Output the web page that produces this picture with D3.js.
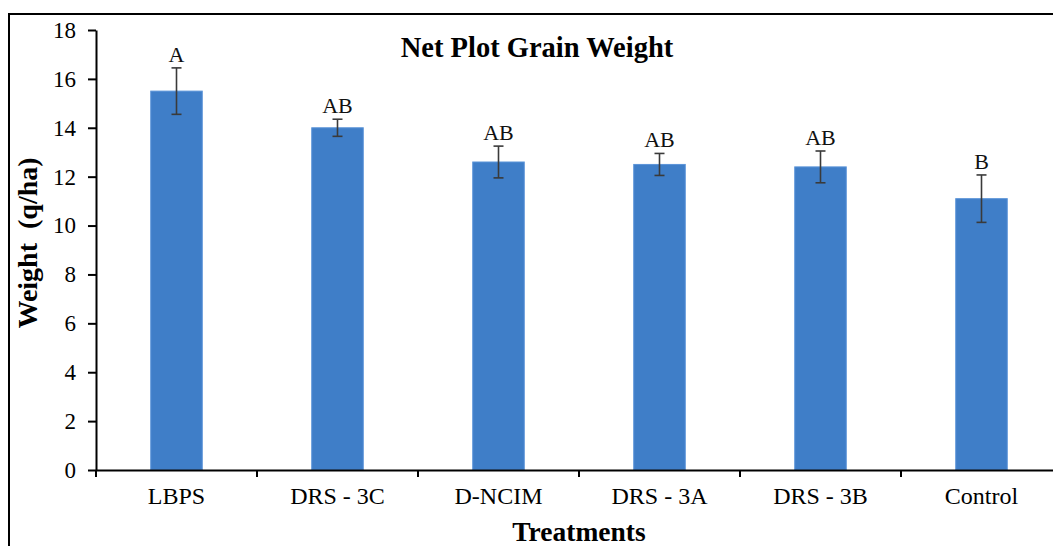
<!DOCTYPE html>
<html>
<head>
<meta charset="utf-8">
<script src="https://cdn.jsdelivr.net/npm/d3@7"></script>
<style>
  body { margin: 0; background: #fff; }
  svg { display: block; font-family: "Liberation Serif", "Times New Roman", serif; }
  .axis path, .axis line { stroke: #000; stroke-width: 2; }
  .axis text { fill: #000; }
</style>
</head>
<body>
<div id="chart"></div>
<script>
// data
var treatments = ["LBPS", "DRS - 3C", "D-NCIM", "DRS - 3A", "DRS - 3B", "Control"];
var weights = [15.5, 14.0, 12.6, 12.5, 12.4, 11.1];
var errors = [0.95, 0.35, 0.65, 0.45, 0.65, 0.97];
var groups = ["A", "AB", "AB", "AB", "AB", "B"];
var yTicks = [0, 2, 4, 6, 8, 10, 12, 14, 16, 18];

var svgWidth = 1053;
var svgHeight = 546;

var svg = d3.select("#chart")
  .append("svg")
  .attr("width", svgWidth)
  .attr("height", svgHeight);

// outer frame (cut off at right and bottom like the picture)
svg.append("rect")
  .attr("x", 9)
  .attr("y", 14)
  .attr("width", 1100)
  .attr("height", 600)
  .attr("fill", "none")
  .attr("stroke", "#000")
  .attr("stroke-width", 2);

var x0 = 96, bandW = 161;
var xScale = d3.scaleBand()
  .domain(treatments)
  .range([x0, x0 + bandW * treatments.length])
  .paddingInner(0)
  .paddingOuter(0);

var yScale = d3.scaleLinear()
  .domain([0, 18])
  .range([470, 30]);

var barW = xScale.bandwidth() * 0.32;

// y axis
var yAxis = svg.append("g")
  .attr("class", "axis")
  .attr("transform", `translate(${x0}, 0)`)
  .call(d3.axisLeft(yScale).tickValues(yTicks).tickSize(8).tickPadding(12).tickSizeOuter(0));
yAxis.selectAll("text")
  .attr("font-size", "23px")
  .attr("font-family", "Liberation Serif, serif");

// bars
svg.selectAll(".bar")
  .data(treatments)
  .enter()
  .append("rect")
  .attr("class", "bar")
  .attr("x", d => xScale(d) + (xScale.bandwidth() - barW) / 2)
  .attr("y", (d, i) => yScale(weights[i]))
  .attr("width", barW)
  .attr("height", (d, i) => yScale(0) - yScale(weights[i]))
  .attr("fill", "#3f7ec8")
  .attr("stroke", "#5b94d8")
  .attr("stroke-width", 1);

// x axis
var xAxis = svg.append("g")
  .attr("class", "axis")
  .attr("transform", `translate(0, ${yScale(0)})`)
  .call(d3.axisBottom(xScale).tickSize(0).tickPadding(17).tickSizeOuter(0));
xAxis.selectAll("text")
  .attr("font-size", "24px")
  .attr("font-family", "Liberation Serif, serif");

// category boundary ticks
var bounds = treatments.map(d => xScale(d)).concat([xScale.range()[1]]);
svg.selectAll(".xtick")
  .data(bounds)
  .enter()
  .append("line")
  .attr("class", "xtick")
  .attr("x1", d => d)
  .attr("x2", d => d)
  .attr("y1", yScale(0))
  .attr("y2", yScale(0) + 7)
  .attr("stroke", "#000")
  .attr("stroke-width", 2);

// error bars
var errG = svg.append("g")
  .attr("stroke", "#3a3a3a")
  .attr("stroke-width", 1.6);
treatments.forEach(function(t, i) {
  var cx = xScale(t) + xScale.bandwidth() / 2;
  var top = yScale(weights[i] + errors[i]);
  var bot = yScale(weights[i] - errors[i]);
  errG.append("line").attr("x1", cx).attr("x2", cx).attr("y1", top).attr("y2", bot);
  errG.append("line").attr("x1", cx - 5).attr("x2", cx + 5).attr("y1", top).attr("y2", top);
  errG.append("line").attr("x1", cx - 5).attr("x2", cx + 5).attr("y1", bot).attr("y2", bot);
});

// significance letters
svg.selectAll(".grp")
  .data(treatments)
  .enter()
  .append("text")
  .attr("class", "grp")
  .attr("x", d => xScale(d) + xScale.bandwidth() / 2)
  .attr("y", (d, i) => yScale(weights[i] + errors[i]) - 6)
  .attr("text-anchor", "middle")
  .attr("font-size", "22px")
  .attr("fill", "#111")
  .text((d, i) => groups[i]);

// title
svg.append("text")
  .attr("x", 537)
  .attr("y", 57)
  .attr("text-anchor", "middle")
  .attr("font-size", "28.5px")
  .attr("font-weight", "bold")
  .text("Net Plot Grain Weight");

// axis titles
svg.append("text")
  .attr("transform", "translate(37, 243) rotate(-90)")
  .attr("text-anchor", "middle")
  .attr("font-size", "28px")
  .attr("font-weight", "bold")
  .style("white-space", "pre")
  .text("Weight  (q/ha)");

svg.append("text")
  .attr("x", x0 + bandW * 3)
  .attr("y", 541)
  .attr("text-anchor", "middle")
  .attr("font-size", "27.5px")
  .attr("font-weight", "bold")
  .text("Treatments");
</script>
</body>
</html>
